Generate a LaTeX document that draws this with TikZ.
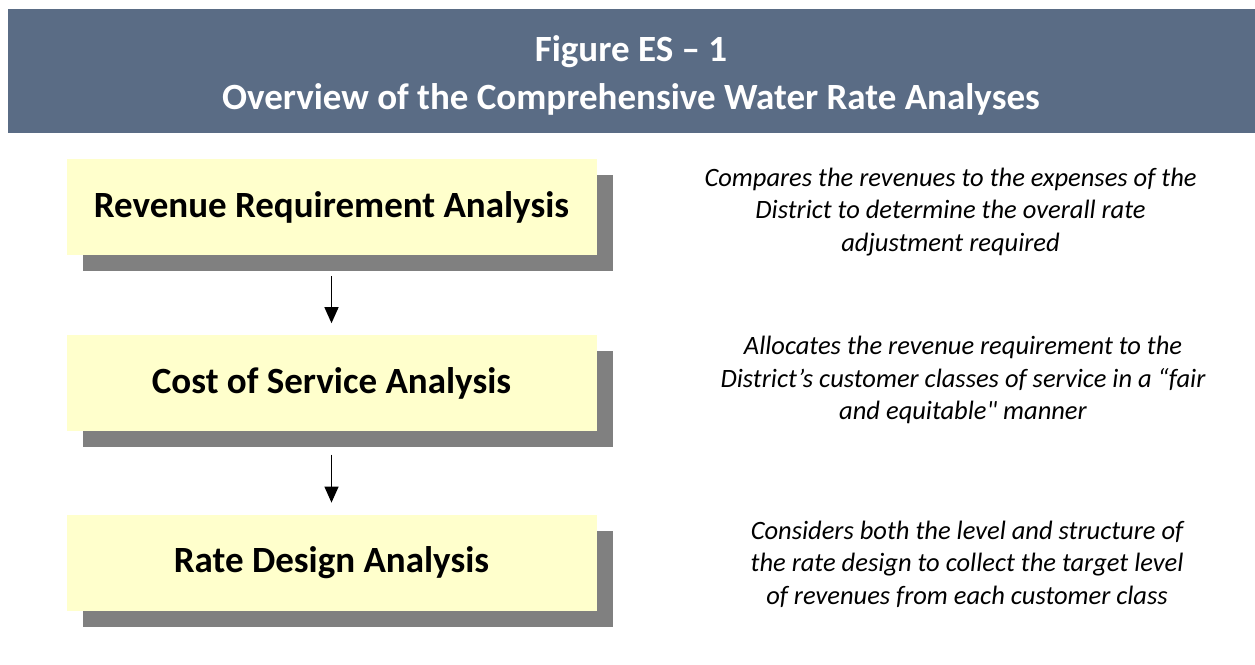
\documentclass[tikz,border=0pt]{standalone}
\usepackage{fontspec}
\setmainfont{Carlito}
\newfontfamily\rawfont{Carlito}
\usetikzlibrary{positioning}
\usetikzlibrary{shadows}
\usetikzlibrary{arrows.meta}
\definecolor{bandblue}{RGB}{90,108,133}
\definecolor{stageyellow}{RGB}{255,255,204}
\definecolor{shadowgray}{RGB}{128,128,128}
\tikzset{stage/.style={rectangle, fill=stageyellow, inner sep=0pt,
   minimum width=530pt, minimum height=96pt,
   drop shadow={shadow xshift=16pt, shadow yshift=-16pt, fill=shadowgray, opacity=1},
   font=\fontsize{37}{44}\selectfont\bfseries
}}
\tikzset{note/.style={align=center, font=\fontsize{26.5}{32.5}\selectfont\itshape}}
\tikzset{flow/.style={-{Triangle[length=16pt,width=14pt]}, line width=1.3pt}}

\begin{document}
\begin{tikzpicture}[x=1pt,y=-1pt]

    \useasboundingbox (0,0) rectangle (1255,664);

    % title band
    \fill[bandblue] (8,9) rectangle (1255,133);
    \node[align=center, text=white, font=\fontsize{37}{48}\selectfont\bfseries] (title) at (631,75)
        {Figure ES -- 1\\Overview of the Comprehensive Water Rate Analyses};

    % the three analyses
    \node[stage] (revreq) at (331.5,207) {Revenue Requirement Analysis};
    \node[stage, below=80pt of revreq] (costsvc) {Cost of Service Analysis};
    \node[stage, below=83pt of costsvc] (ratedes) {Rate Design Analysis};

    \draw[flow, shorten <=21pt, shorten >=12pt] (revreq.south) -- (costsvc.north);
    \draw[flow, shorten <=23pt, shorten >=12pt] (costsvc.south) -- (ratedes.north);

    % notes
    \node[note] (revnote) at (950.5,212) {Compares the revenues to the expenses of the\\District to determine the overall rate\\adjustment required};
    \node[note] (costnote) at (963,380) {Allocates the revenue requirement to the\\District’s customer classes of service in a “fair\\and equitable{\rawfont\itshape"} manner};
    \node[note] (ratenote) at (967,564) {Considers both the level and structure of\\the rate design to collect the target level\\of revenues from each customer class};

\end{tikzpicture}
\end{document}
